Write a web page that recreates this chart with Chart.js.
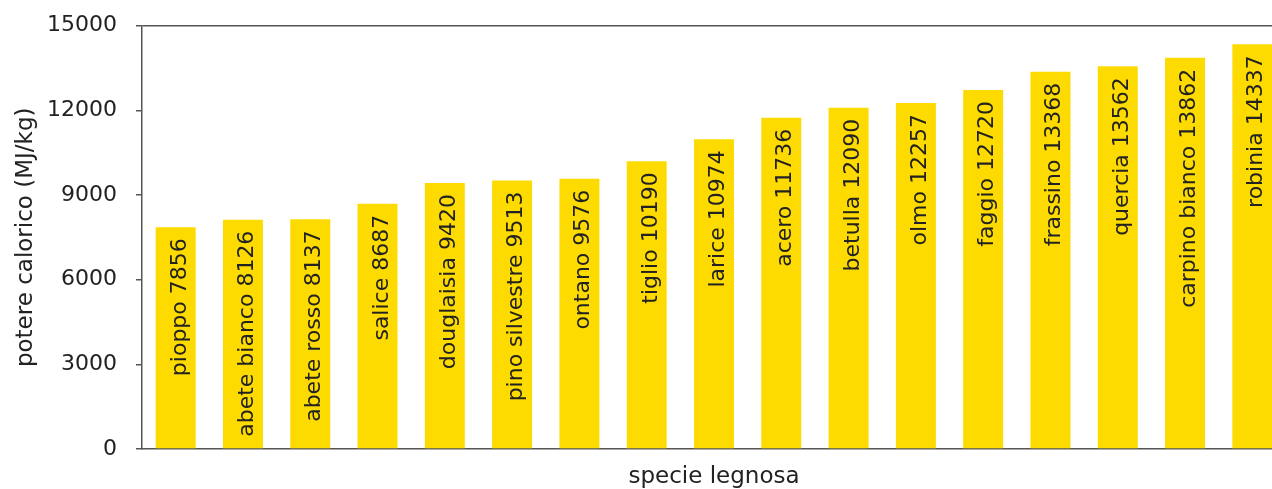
<!DOCTYPE html>
<html>
<head>
<meta charset="utf-8">
<script src="https://cdn.jsdelivr.net/npm/chart.js@4/dist/chart.umd.min.js"></script>
<style>
  html, body { margin: 0; padding: 0; background: #fff; overflow: hidden; }
  #wrap { width: 1286px; height: 489px; }
</style>
</head>
<body>
<div id="wrap"><canvas id="c" width="1286" height="489"></canvas></div>
<script>
// Wood species and their heating value
const species = ['pioppo', 'abete bianco', 'abete rosso', 'salice', 'douglaisia', 'pino silvestre',
  'ontano', 'tiglio', 'larice', 'acero', 'betulla', 'olmo', 'faggio', 'frassino', 'quercia',
  'carpino bianco', 'robinia'];
const calorificValues = [7856, 8126, 8137, 8687, 9420, 9513, 9576, 10190, 10974, 11736, 12090,
  12257, 12720, 13368, 13562, 13862, 14337];
const yTicks = [0, 3000, 6000, 9000, 12000, 15000];
const yTitle = 'potere calorico (MJ/kg)';
const xTitle = 'specie legnosa';

const FONT = 'DejaVu Sans';
const INK = '#222222';
const AXIS = '#555555';
const BAR = '#FDDB00';

// Writes "name value" vertically inside each bar, just below its top
const barLabels = {
  id: 'barLabels',
  afterDatasetsDraw(chart) {
    const ctx = chart.ctx;
    const meta = chart.getDatasetMeta(0);
    ctx.save();
    ctx.font = '22px "' + FONT + '"';
    ctx.fillStyle = INK;
    ctx.textAlign = 'right';
    ctx.textBaseline = 'alphabetic';
    meta.data.forEach((bar, i) => {
      const text = species[i] + ' ' + calorificValues[i];
      ctx.save();
      ctx.translate(bar.x + 10, bar.y + 11);
      ctx.rotate(-Math.PI / 2);
      ctx.fillText(text, 0, 0);
      ctx.restore();
    });
    ctx.restore();
  }
};

new Chart(document.getElementById('c'), {
  type: 'bar',
  data: {
    labels: species,
    datasets: [{
      data: calorificValues,
      backgroundColor: BAR,
      borderWidth: 0,
      categoryPercentage: 1,
      barPercentage: 0.594
    }]
  },
  options: {
    responsive: false,
    animation: false,
    devicePixelRatio: 1,
    layout: { padding: { top: 24, right: 0, bottom: 0, left: 0 } },
    plugins: {
      legend: { display: false },
      tooltip: { enabled: false }
    },
    scales: {
      x: {
        ticks: { display: false },
        grid: { display: false, drawTicks: false },
        border: { display: true, color: AXIS, width: 1.5 },
        title: {
          display: true,
          text: xTitle,
          color: INK,
          font: { family: FONT, size: 23, lineHeight: 1.04 },
          padding: { top: 0, bottom: 0 }
        },
        afterFit(scale) { scale.height = 40; }
      },
      y: {
        min: 0,
        max: 15000,
        afterBuildTicks(scale) { scale.ticks = yTicks.map(v => ({ value: v })); },
        ticks: {
          color: INK,
          font: { family: FONT, size: 22, lineHeight: 0.6 },
          padding: 19,
          callback: (v) => String(v)
        },
        grid: {
          drawTicks: true,
          tickLength: 6,
          tickColor: AXIS,
          tickWidth: 1.5,
          lineWidth: 1.5,
          color: (c) => (c.tick && c.tick.value === 15000 ? AXIS : 'rgba(0,0,0,0)')
        },
        border: { display: true, color: AXIS, width: 1.5 },
        title: {
          display: true,
          text: yTitle,
          color: INK,
          font: { family: FONT, size: 23, lineHeight: 1 },
          padding: { top: 15, bottom: 0 }
        },
        afterFit(scale) { scale.width = 142; }
      }
    }
  },
  plugins: [barLabels]
});
</script>
</body>
</html>
